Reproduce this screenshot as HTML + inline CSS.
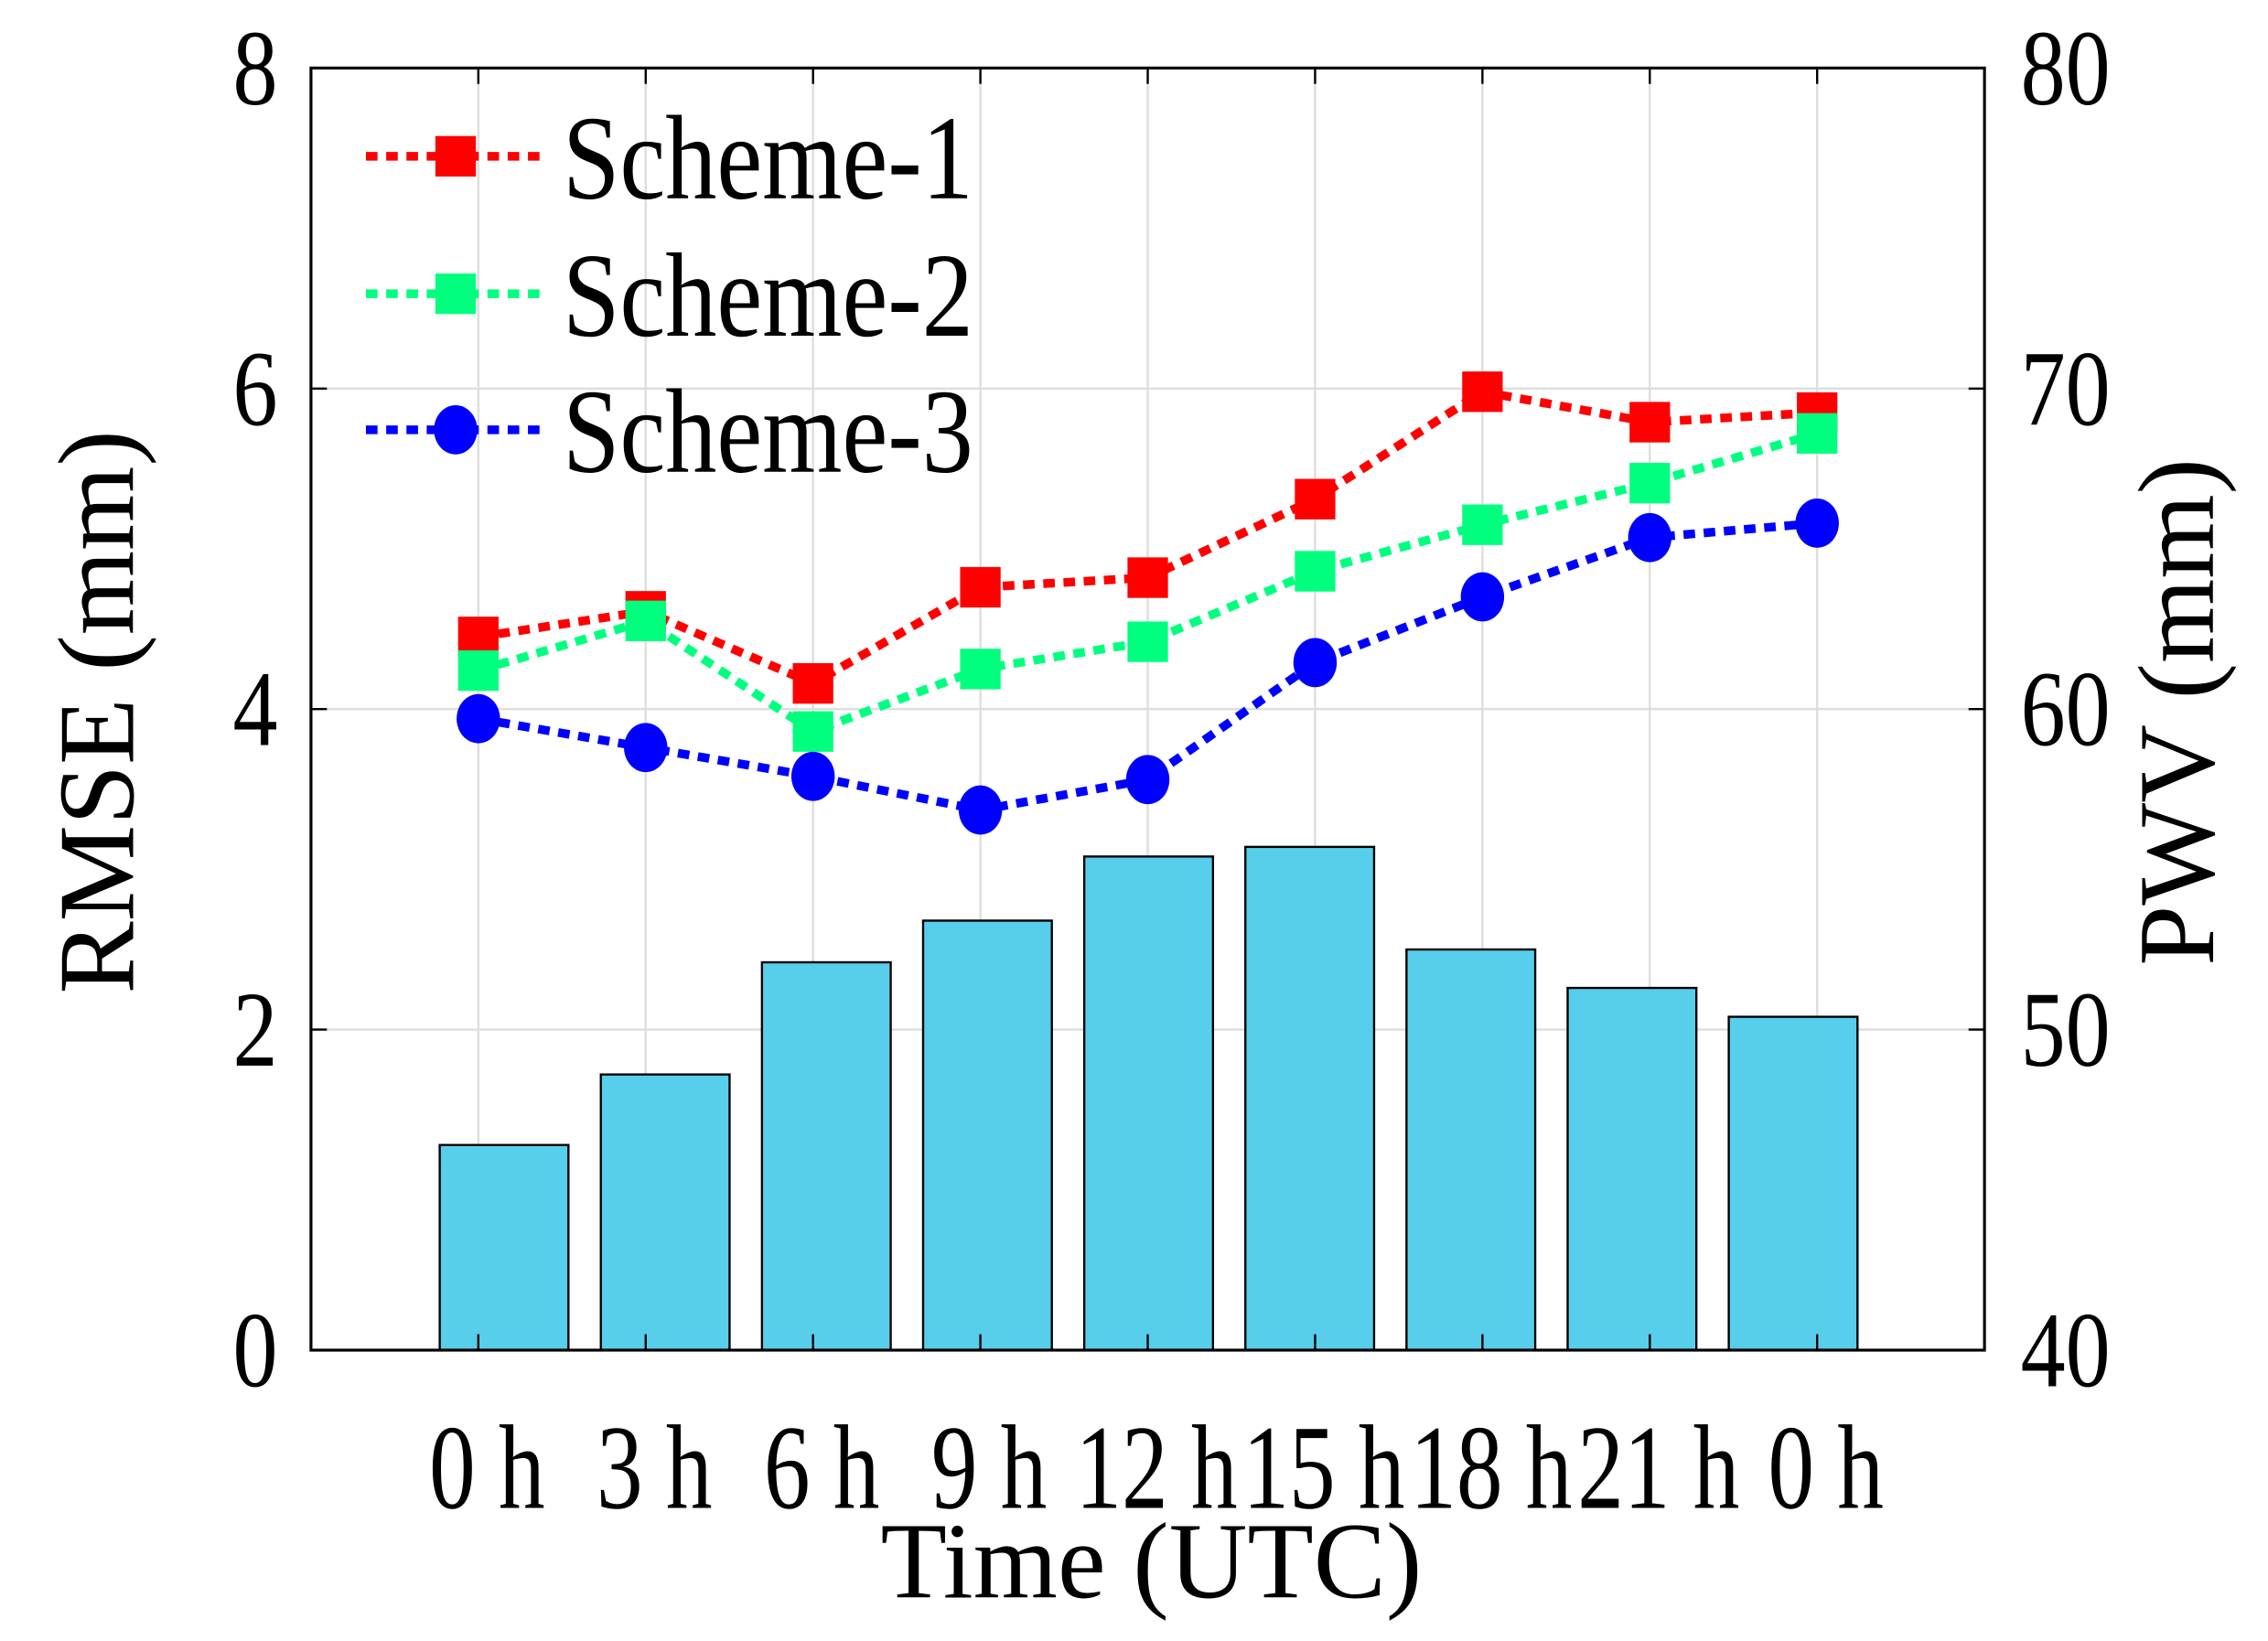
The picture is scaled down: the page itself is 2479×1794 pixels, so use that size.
<!DOCTYPE html>
<html><head><meta charset="utf-8"><style>
html,body{margin:0;padding:0;background:#fff;}
svg{display:block;font-family:"Liberation Serif",serif;}
</style></head><body>
<svg id="chart" width="2479" height="1794" viewBox="0 0 1568 1134" preserveAspectRatio="none" xmlns="http://www.w3.org/2000/svg">
<g id="grid"></g>
<g id="bars"></g>
<g id="series"></g>
<g id="axes"></g>
<g id="legend"></g>
<text transform="translate(92,492) rotate(-90)" text-anchor="middle" font-size="75">RMSE (mm)</text>
<text transform="translate(1530,492) rotate(-90)" text-anchor="middle" font-size="75">PWV (mm)</text>
<text x="796" y="1104" text-anchor="middle" font-size="75">Time (UTC)</text>
</svg>
<script>
const categories = ["0 h","3 h","6 h","9 h","12 h","15 h","18 h","21 h","0 h"];
const pwv = [46.4, 48.6, 52.1, 53.4, 55.4, 55.7, 52.5, 51.3, 50.4];
const scheme1 = [4.45, 4.61, 4.16, 4.76, 4.82, 5.31, 5.98, 5.79, 5.85];
const scheme2 = [4.24, 4.55, 3.86, 4.25, 4.42, 4.86, 5.15, 5.41, 5.72];
const scheme3 = [3.94, 3.76, 3.58, 3.37, 3.56, 4.29, 4.70, 5.07, 5.16];
const leftTicks = [0, 2, 4, 6, 8];
const rightTicks = [40, 50, 60, 70, 80];
const seriesNames = ["Scheme-1", "Scheme-2", "Scheme-3"];

const NS = "http://www.w3.org/2000/svg";
const L = 215, R = 1372, T = 47, B = 933;
const xs = i => L + (i + 1) * (R - L) / 10;
const xBar = i => 348.5 + i * 111.4;
const yL = v => B - v / 8 * (B - T);
const yR = v => B - (v - 40) / 40 * (B - T);
function mk(tag, attrs, parent) {
  const e = document.createElementNS(NS, tag);
  for (const k in attrs) e.setAttribute(k, attrs[k]);
  parent.appendChild(e);
  return e;
}
const grid = document.getElementById('grid');
const axes = document.getElementById('axes');
categories.forEach((c, i) => {
  const g = mk('line', {x1: xs(i), x2: xs(i), y1: T, y2: B, stroke: '#ddd', 'stroke-width': 1.5}, grid);
  
  
  const t1 = mk('line', {x1: xs(i), x2: xs(i), y1: B, y2: B - 11, stroke: '#000', 'stroke-width': 1.5}, axes);
  
  
  const t2 = mk('line', {x1: xs(i), x2: xs(i), y1: T, y2: T + 11, stroke: '#000', 'stroke-width': 1.5}, axes);
  
  
  const lb = mk('text', {x: 0, y: 0, 'text-anchor': 'middle', 'font-size': 64, transform: 'translate(' + (xs(i) + 6) + ',1042) scale(1,1.3)'}, axes);
  lb.textContent = c;
  
  
});
leftTicks.forEach(v => {
  const y = yL(v);
  if (v > 0 && v < 8) {
    const g = mk('line', {x1: L, x2: R, y1: y, y2: y, stroke: '#ddd', 'stroke-width': 1.5}, grid);
    
    
  }
  const t = mk('line', {x1: L, x2: L + 11, y1: y, y2: y, stroke: '#000', 'stroke-width': 1.5}, axes);
  
  
  const lb = mk('text', {x: 0, y: 0, 'text-anchor': 'end', 'font-size': 62, transform: 'translate(192,' + (y + 25) + ') scale(1,1.2)'}, axes);
  lb.textContent = v;
  
  
});
rightTicks.forEach(v => {
  const y = yR(v);
  const t = mk('line', {x1: R, x2: R - 11, y1: y, y2: y, stroke: '#000', 'stroke-width': 1.5}, axes);
  
  
  const lb = mk('text', {x: 0, y: 0, 'text-anchor': 'start', 'font-size': 62, transform: 'translate(1397,' + (y + 25) + ') scale(1,1.2)'}, axes);
  lb.textContent = v;
  
  
});
const frame = mk('rect', {x: L, y: T, width: R - L, height: B - T, fill: 'none', stroke: '#000', 'stroke-width': 2}, axes);



const bars = document.getElementById('bars');
pwv.forEach((v, i) => {
  const b = mk('rect', {x: xBar(i) - 44.5, y: yR(v), width: 89, height: B - yR(v), fill: '#57ceeb', stroke: '#000', 'stroke-width': 1.5}, bars);
  
  
});

const ser = document.getElementById('series');
const defs = [[scheme1, '#ff0000', 'sq'], [scheme2, '#00ff7f', 'sq'], [scheme3, '#0000ff', 'ci']];
function marker(x, y, col, type, parent) {
  if (type === 'sq') return mk('rect', {x: x - 14, y: y - 14, width: 28, height: 28, fill: col}, parent);
  return mk('ellipse', {cx: x, cy: y, rx: 15, ry: 17, fill: col}, parent);
}
defs.forEach(([data, col, type], s) => {
  const pts = data.map((v, i) => xs(i) + ',' + yL(v)).join(' ');
  const pl = mk('polyline', {points: pts, fill: 'none', stroke: col, 'stroke-width': 6, 'stroke-dasharray': '8 6'}, ser);
  
  
  data.forEach((v, i) => {
    const m = marker(xs(i), yL(v), col, type, ser);
    
    
  });
});

const leg = document.getElementById('legend');
const ly = [108, 203, 297];
defs.forEach(([data, col, type], s) => {
  const g = mk('g', {}, leg);
  
  
  mk('line', {x1: 253, x2: 373, y1: ly[s], y2: ly[s], stroke: col, 'stroke-width': 6, 'stroke-dasharray': '8 6'}, g);
  marker(315, ly[s], col, type, g);
  const t = mk('text', {x: 0, y: 0, 'font-size': 71, transform: 'translate(389,' + (ly[s] + 29) + ') scale(1,1.17)'}, g);
  t.textContent = seriesNames[s];
});
</script>
</body></html>
